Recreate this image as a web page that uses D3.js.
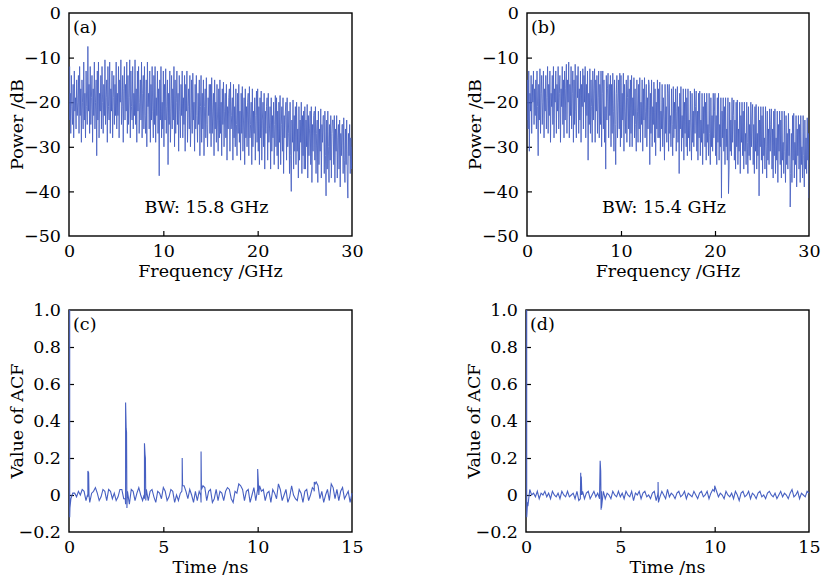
<!DOCTYPE html>
<html><head><meta charset="utf-8">
<script src="https://cdn.jsdelivr.net/npm/d3@7"></script>
<style>body{margin:0;background:#fff}svg{display:block}text{font-family:"DejaVu Serif",serif;fill:#000}</style>
</head><body>
<script>
// ---- Data ----
const freqStepGHz = 0.0625; // spacing of spectrum samples (16 per GHz)
const spectrumA = [
-12,-24,-18,-27,-14,-21,-25,-16,-28,-13,-22,-19,-26,-15,-23,-20,
-14,-27,-12,-23,-17,-29,-15,-20,-26,-11,-24,-18,-28,-13,-21,-25,
-7.5,-22,-16,-27,-12,-25,-19,-14,-29,-17,-23,-11,-26,-20,-15,-32,
-13,-24,-11,-28,-18,-22,-14,-26,-12,-20,-27,-16,-23,-10.5,-25,-19,
-15,-29,-12,-21,-24,-11,-27,-17,-22,-13,-28,-19,-14,-25,-16,-23,
-11,-26,-18,-23,-12,-28,-15,-20,-10.5,-25,-21,-14,-29,-17,-12,-24,
-16,-22,-11,-27,-14,-25,-19,-10.5,-28,-13,-21,-24,-12,-26,-18,-23,
-10.5,-25,-17,-29,-13,-22,-12,-27,-20,-15,-24,-11,-28,-18,-14,-26,
-12,-23,-27,-15,-30,-11,-21,-18,-26,-13,-29,-16,-24,-12,-22,-28,
-14,-25,-12,-29,-19,-23,-13,-27,-17,-36.5,-15,-24,-12,-28,-20,-26,
-13,-30,-16,-24,-12.5,-27,-21,-15,-34,-18,-25,-13,-29,-22,-14,-26,
-17,-24,-12,-30,-15,-27,-20,-13,-25,-18,-31,-14,-22,-28,-16,-23,
-13,-28,-19,-25,-14,-31,-16,-22,-13,-29,-21,-17,-26,-14,-30,-24,
-15,-27,-13.5,-24,-20,-31,-16,-26,-14,-23,-29,-18,-25,-15,-32,-21,
-14,-29,-18,-26,-15,-32,-21,-17,-28,-14.5,-25,-30,-19,-23,-16,-27,
-16,-30,-14.5,-27,-22,-18,-32,-15,-26,-20,-29,-16,-24,-31,-17,-28,
-15,-27,-20,-32,-17,-25,-15.5,-30,-22,-18,-28,-16,-33,-21,-26,-19,
-17,-31,-15.5,-26,-23,-19,-33,-16,-28,-21,-30,-17,-25,-32,-18,-27,
-16,-29,-22,-33,-18,-27,-16.5,-31,-24,-19,-34,-17,-28,-21,-30,-20,
-18,-32,-16.5,-28,-25,-20,-34,-17,-30,-22,-27,-19,-33,-23,-17.5,-29,
-17,-31,-21,-34,-19,-28,-17.5,-33,-24,-20,-30,-18,-35,-22,-27,-21,
-19,-33,-18,-29,-26,-21,-35,-19,-31,-23,-28,-20,-34,-25,-18.5,-30,
-19,-32,-22,-35,-20,-29,-18.5,-34,-25,-21,-31,-19,-36,-23,-28,-22,
-20,-33,-19,-30,-27,-22,-36,-20,-32,-40,-24,-29,-19.5,-35,-23,-31,
-21,-34,-20,-31,-26,-37,-21,-33,-24,-29,-20,-36,-23,-32,-22,-35,
-21,-35,-24,-30,-20.5,-37,-23,-32,-26,-22,-34,-21,-38,-25,-31,-23,
-22,-33,-21,-36,-27,-24,-38,-22,-34,-26,-31,-21.5,-37,-25,-29,-23,
-23,-36,-22,-32,-41,-24,-35,-22,-30,-38,-25,-33,-23,-37,-27,-24,
-24,-34,-23,-38,-26,-31,-23,-37,-28,-25,-35,-24,-39,-27,-32,-25,
-25,-36,-23.5,-33,-38,-26,-34,-24,-37,-41.5,-27,-32,-25,-36,-28,-35,
-30];
const spectrumB = [
-24,-15,-26,-13,-31,-18,-22,-14,-27,-16,-20,-13,-25,-17,-23,-15,
-26,-13,-21,-32,-16,-24,-12.5,-27,-18,-14,-25,-20,-13,-28,-17,-22,
-14,-26,-19,-12,-27,-16,-23,-13,-29,-18,-21,-14,-25,-12,-28,-17,
-20,-13,-27,-16,-22,-12,-26,-18,-14,-29,-17,-21,-12,-25,-15,-28,
-13,-24,-17,-11.5,-27,-15,-20,-11,-28,-16,-23,-12,-26,-18,-13,-29,
-15,-25,-11.5,-22,-28,-14,-19,-12,-27,-17,-24,-13,-29,-16,-21,-12.5,
-26,-14,-20,-12,-28,-16,-23,-13,-33,-18,-25,-12.5,-27,-15,-21,-29,
-13,-24,-17,-12.5,-29,-15,-22,-14,-27,-19,-13,-28,-16,-25,-13,-30,
-18,-13,-26,-15,-29,-21,-35,-14,-24,-17,-13.5,-28,-16,-23,-14,-30,
-16,-27,-13.5,-22,-31,-15,-25,-34,-18,-14,-28,-20,-15,-26,-13.5,-30,
-14,-28,-18,-24,-13.5,-31,-16,-22,-27,-15,-29,-19,-14,-26,-17,-30,
-15,-27,-14,-30,-19,-23,-14.5,-28,-17,-25,-31,-15,-22,-29,-16,-26,
-14.5,-29,-20,-25,-15,-31,-17,-24,-14.5,-28,-22,-16,-30,-19,-26,-15,
-16,-34,-18,-27,-15,-30,-21,-25,-15.5,-29,-17,-32,-20,-26,-15,-28,
-17,-28,-15.5,-31,-22,-26,-16,-30,-19,-24,-33,-16,-27,-21,-29,-16,
-18,-31,-16,-27,-23,-30,-17,-25,-32,-16.5,-28,-20,-26,-17,-31,-22,
-16.5,-29,-21,-36,-18,-26,-16.5,-31,-23,-28,-17,-33,-20,-27,-17,-30,
-19,-32,-17,-28,-24,-31,-17.5,-26,-33,-18,-29,-22,-30,-17,-27,-21,
-17.5,-31,-22,-33,-18,-28,-17.5,-32,-24,-29,-18,-34,-21,-27,-18,-30,
-20,-33,-18,-29,-25,-32,-18,-27,-34,-19,-30,-23,-31,-18,-28,-22,
-18,-32,-23,-34,-19,-29,-18,-33,-25,-30,-19,-41.5,-22,-28,-19,-31,
-21,-34,-19,-30,-26,-33,-19,-40.5,-35,-20,-31,-24,-32,-19,-29,-23,
-19.5,-33,-24,-35,-20,-30,-19.5,-34,-26,-31,-20,-36,-23,-29,-20,-32,
-22,-35,-20,-31,-27,-34,-20,-29,-36,-21,-32,-25,-33,-20,-30,-24,
-20.5,-34,-25,-36,-21,-31,-20.5,-35,-27,-32,-21,-41,-24,-30,-21,-33,
-23,-36,-21,-32,-28,-35,-21,-30,-37,-22,-33,-26,-34,-21.5,-31,-25,
-21.5,-35,-26,-37,-22,-32,-21.5,-36,-28,-33,-22,-38,-25,-31,-22,-34,
-24,-37,-22,-33,-29,-36,-22,-31,-38,-23,-34,-27,-35,-22.5,-32,-26,
-43.5,-36,-27,-38,-23,-33,-22.5,-37,-29,-34,-23,-39,-26,-32,-23,-35,
-25,-38,-23,-34,-30,-37,-23,-32,-39,-24,-35,-28,-36,-23.5,-33,-27,
-41.5];
const bwTextA = "BW: 15.8 GHz";
const bwTextB = "BW: 15.4 GHz";

const acfStepNs = 0.1; // baseline samples start at 0.1 ns
const acfBaseC = [
-0.02,0.01,0.01,-0.01,0.02,0.0,0.03,0.02,-0.03,-0.01,
-0.04,0.01,0.02,0.04,0.01,-0.03,-0.01,0.03,0.02,-0.03,
0.03,0.02,-0.02,0.01,-0.03,-0.01,0.03,0.03,-0.02,-0.05,
0.02,-0.05,0.03,0.02,-0.03,0.01,0.04,0.0,-0.03,-0.02,
0.03,-0.03,0.02,0.03,-0.01,-0.04,0.02,0.01,-0.02,0.04,
0.02,-0.03,-0.01,0.03,0.02,-0.04,0.0,-0.03,0.01,0.06,
0.05,0.02,-0.02,0.03,0.0,-0.04,0.02,-0.03,0.02,-0.04,
0.05,0.04,-0.03,0.02,0.03,-0.04,-0.02,0.03,-0.03,0.02,
0.01,-0.03,0.02,0.04,0.03,-0.02,-0.04,0.02,0.01,0.06,
0.05,0.03,-0.03,0.02,0.03,-0.04,0.0,0.04,-0.03,0.03,
0.05,0.02,0.03,-0.03,0.01,0.02,-0.04,0.03,0.01,-0.02,
0.06,0.03,-0.03,0.0,0.03,-0.04,-0.01,0.05,0.0,-0.02,
-0.03,0.03,0.01,-0.04,0.02,0.03,-0.03,0.0,0.04,0.02,
0.07,0.05,-0.02,0.02,-0.04,0.0,0.03,-0.03,0.06,0.04,
-0.02,0.03,-0.03,0.02,0.04,-0.02,0.0,0.02,-0.04,0.01];
const acfPeaksC = [
[0,1.0],[0.02,-0.12],[0.05,-0.07],
[0.98,0.0],[1.0,0.13],[1.04,0.12],[1.06,0.0],
[2.98,-0.02],[3.0,0.5],[3.03,0.36],[3.05,0.34],[3.07,-0.07],
[3.98,0.0],[4.0,0.28],[4.03,0.22],[4.05,0.2],[4.07,-0.03],
[5.98,0.02],[6.0,0.2],[6.02,0.05],
[6.98,0.0],[7.0,0.235],[7.02,0.03],
[9.98,0.02],[10.0,0.14],[10.03,0.08],[10.06,0.0],
[12.98,0.03],[13.0,0.07],[13.05,0.06]];
const acfBaseD = [
-0.06,0.03,0.0,0.01,-0.01,0.02,-0.02,0.01,0.0,0.02,
-0.01,0.01,-0.02,0.02,0.0,-0.01,0.01,-0.02,0.02,0.0,
-0.01,0.02,-0.01,0.0,0.01,-0.02,0.02,-0.03,0.0,0.02,
-0.02,0.01,0.02,-0.02,0.0,0.02,-0.01,0.01,0.0,0.02,
0.02,-0.02,0.01,0.0,-0.02,0.02,0.0,-0.01,0.02,-0.01,
0.01,-0.02,0.02,0.0,-0.01,0.02,-0.03,0.01,0.0,0.02,
-0.02,0.01,0.02,-0.01,0.0,-0.02,0.01,0.02,-0.03,0.02,
-0.01,0.02,0.0,-0.02,0.03,-0.01,0.01,0.0,-0.02,0.01,
0.02,-0.01,0.0,0.02,-0.02,0.01,0.0,-0.01,0.02,0.0,
-0.02,0.01,0.02,-0.01,0.0,0.02,-0.02,0.01,0.03,0.04,
0.02,-0.01,0.01,0.0,-0.02,0.02,0.0,-0.01,0.01,-0.02,
0.02,0.0,-0.03,0.01,0.02,-0.01,0.0,0.02,-0.02,0.01,
0.0,-0.02,0.01,0.02,-0.01,0.0,-0.02,0.01,0.02,0.0,
-0.01,0.01,-0.02,0.0,0.02,-0.01,0.01,0.0,-0.02,0.01,
0.03,-0.01,0.0,0.02,-0.02,0.01,0.0,-0.01,0.02,0.01];
const acfPeaksD = [
[0,1.0],[0.02,-0.12],[0.05,-0.1],[0.08,-0.04],
[2.88,-0.02],[2.9,0.12],[2.93,0.1],[2.96,0.0],
[3.9,-0.02],[3.93,0.185],[3.96,0.13],[3.98,-0.08],[4.0,-0.07],
[6.98,0.0],[7.0,0.07],[7.02,-0.04],
[9.98,0.02],[10.0,0.05]];

const freqTicks = [0,10,20,30];
const powerTicks = [0,-10,-20,-30,-40,-50];
const timeTicks = [0,5,10,15];
const acfTicks = [1.0,0.8,0.6,0.4,0.2,0,-0.2];

// ---- Drawing ----
const W = 823, H = 584, FS = "17.5px";
const svg = d3.select("body").append("svg").attr("width", W).attr("height", H);
const LINE = "#4760c2";

function toPoints(arr){ return arr.map((v,i)=>[i*freqStepGHz, v]); }
function acfPoints(base, peaks){
  const pts = base.map((v,i)=>[(i+1)*acfStepNs, v]).concat(peaks);
  return pts.sort((a,b)=>a[0]-b[0]);
}
const fmtPow = d=>d===0?"0":"\u2212"+Math.abs(d);
const fmtAcf = d=>d===0?"0":(d<0?"\u2212":"")+Math.abs(d).toFixed(1);

const panels = [
 {id:"a", x0:69, x1:352, y0:13, y1:236, xd:[0,30], yd:[-50,0], xt:freqTicks, yt:powerTicks,
  yfmt:fmtPow, xl:"Frequency /GHz", yl:"Power /dB",
  pts:toPoints(spectrumA), sw:0.85, op:1, note:bwTextA, tag:"(a)", clip:true},
 {id:"b", x0:527, x1:809, y0:13, y1:236, xd:[0,30], yd:[-50,0], xt:freqTicks, yt:powerTicks,
  yfmt:fmtPow, xl:"Frequency /GHz", yl:"Power /dB",
  pts:toPoints(spectrumB), sw:0.85, op:1, note:bwTextB, tag:"(b)", clip:true},
 {id:"c", x0:69, x1:352, y0:310, y1:532, xd:[0,15], yd:[-0.2,1.0], xt:timeTicks, yt:acfTicks,
  yfmt:fmtAcf, xl:"Time /ns", yl:"Value of ACF",
  pts:acfPoints(acfBaseC, acfPeaksC), sw:1.1, op:1, tag:"(c)", clip:false},
 {id:"d", x0:526, x1:809, y0:310, y1:532, xd:[0,15], yd:[-0.2,1.0], xt:timeTicks, yt:acfTicks,
  yfmt:fmtAcf, xl:"Time /ns", yl:"Value of ACF",
  pts:acfPoints(acfBaseD, acfPeaksD), sw:1.1, op:1, tag:"(d)", clip:false}
];

panels.forEach(p=>{
  const x = d3.scaleLinear().domain(p.xd).range([p.x0,p.x1]);
  const y = d3.scaleLinear().domain(p.yd).range([p.y1,p.y0]);
  const g = svg.append("g");
  g.append("clipPath").attr("id","clip"+p.id).append("rect")
    .attr("x",p.x0).attr("y",p.y0).attr("width",p.x1-p.x0).attr("height",p.y1-p.y0);
  const xa = g.append("g").attr("transform",`translate(0,${p.y1})`)
    .call(d3.axisBottom(x).tickValues(p.xt).tickFormat(d=>d).tickSize(-5).tickPadding(9));
  const ya = g.append("g").attr("transform",`translate(${p.x0},0)`)
    .call(d3.axisLeft(y).tickValues(p.yt).tickFormat(p.yfmt).tickSize(-5).tickPadding(8));
  [xa,ya].forEach(a=>{
    a.select(".domain").remove();
    a.selectAll("line").attr("stroke","#000").attr("stroke-width",1.2);
    a.selectAll("text").style("font-family","DejaVu Serif").style("font-size",FS).attr("fill","#000");
  });
  xa.selectAll(".tick").filter(d=>d===p.xd[0]||d===p.xd[1]).select("line").remove();
  ya.selectAll(".tick").filter(d=>d===p.yd[0]||d===p.yd[1]).select("line").remove();
  g.append("rect").attr("x",p.x0).attr("y",p.y0).attr("width",p.x1-p.x0).attr("height",p.y1-p.y0)
    .attr("fill","none").attr("stroke","#000").attr("stroke-width",1.4);
  const path = g.append("path").datum(p.pts)
    .attr("fill","none").attr("stroke",LINE).attr("stroke-width",p.sw).attr("stroke-opacity",p.op)
    .attr("d", d3.line().x(d=>Math.max(x(d[0]), p.x0+0.7)).y(d=>y(d[1])));
  if(p.clip) path.attr("clip-path","url(#clip"+p.id+")");
  g.append("text").attr("x",(p.x0+p.x1)/2).attr("y",p.y1+41).attr("text-anchor","middle")
    .style("font-size",FS).text(p.xl);
  g.append("text").attr("transform",`translate(${p.x0-46},${(p.y0+p.y1)/2}) rotate(-90)`)
    .attr("text-anchor","middle").style("font-size",FS).text(p.yl);
  g.append("text").attr("x",p.x0+4).attr("y",p.y0+20).style("font-size",FS).text(p.tag);
  if(p.note) g.append("text").attr("x",(p.x0+p.x1)/2-4).attr("y",p.y1-23).attr("text-anchor","middle")
    .style("font-size",FS).text(p.note);
});
</script>
</body></html>
